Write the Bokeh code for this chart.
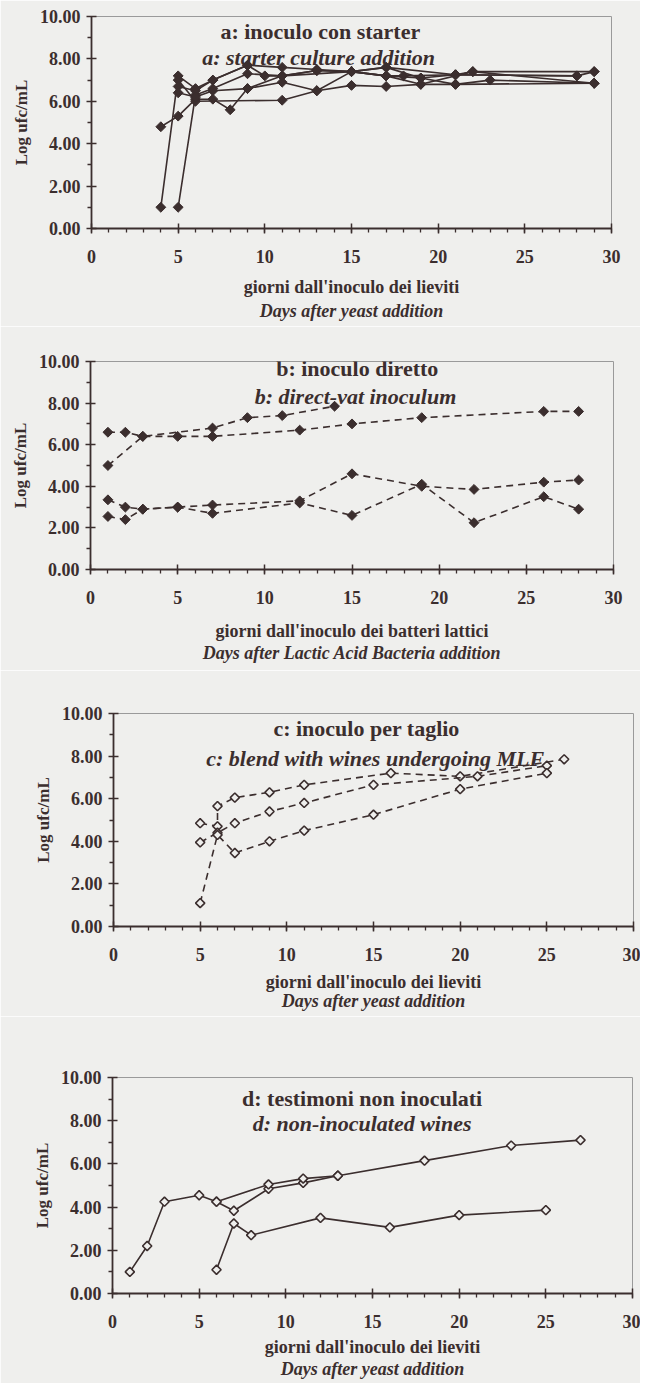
import math
from bokeh.plotting import figure
from bokeh.layouts import column
from bokeh.models import FixedTicker, PrintfTickFormatter, Label, Range1d, Title
from bokeh.embed import file_html
from bokeh.resources import INLINE

# ---------------- data ----------------
x_ticks = [0, 5, 10, 15, 20, 25, 30]
x_minor = list(range(0, 31))
y_ticks = [0, 2, 4, 6, 8, 10]
y_minor = [1, 3, 5, 7, 9]
y_title = "Log ufc/mL"

# panel a: inoculo con starter (filled diamonds, solid lines)
a1_x = [4, 5, 6, 7, 9, 11, 13, 15, 17, 19, 21, 22, 29]
a1_y = [1.0, 7.2, 6.6, 7.0, 7.7, 7.6, 7.5, 7.4, 7.6, 7.1, 7.25, 7.4, 7.4]
a2_x = [5, 6, 7, 9, 11, 13, 15, 17, 18, 21, 28, 29]
a2_y = [1.0, 6.3, 6.6, 7.3, 7.2, 7.45, 7.4, 7.2, 7.2, 7.25, 7.2, 7.4]
a3_x = [4, 5, 6, 7, 8, 9, 11, 13, 15, 17, 19, 21, 23, 29]
a3_y = [4.8, 5.3, 6.1, 6.1, 5.6, 6.6, 6.9, 6.5, 6.75, 6.7, 6.8, 6.8, 7.0, 6.85]
a4_x = [5, 6, 11, 13, 15, 17, 19, 21, 29]
a4_y = [7.0, 6.0, 6.05, 6.5, 7.4, 7.2, 7.1, 6.8, 6.85]
a5_x = [5, 6, 7, 9, 10, 11, 13, 15, 17, 21, 28]
a5_y = [6.7, 6.5, 7.0, 7.7, 7.2, 7.2, 7.45, 7.4, 7.6, 7.25, 7.2]
a6_x = [5, 6, 7, 9, 11, 15, 17, 19, 22, 29]
a6_y = [6.4, 6.2, 6.5, 6.6, 7.2, 7.4, 7.2, 6.8, 7.4, 6.85]

# panel b: inoculo diretto (filled diamonds, dashed lines)
b1_x = [1, 2, 3, 5, 7, 12, 15, 19, 26, 28]
b1_y = [6.6, 6.6, 6.4, 6.4, 6.4, 6.7, 7.0, 7.3, 7.6, 7.6]
b2_x = [1, 3, 7, 9, 11, 14]
b2_y = [5.0, 6.4, 6.8, 7.3, 7.4, 7.85]
b3_x = [1, 2, 3, 5, 7, 12, 15, 19, 22, 26, 28]
b3_y = [3.35, 3.0, 2.9, 3.0, 3.1, 3.3, 4.6, 4.0, 3.85, 4.2, 4.3]
b4_x = [1, 2, 3, 5, 7, 12, 15, 19, 22, 26, 28]
b4_y = [2.55, 2.4, 2.9, 3.0, 2.7, 3.2, 2.6, 4.1, 2.25, 3.5, 2.9]

# panel c: inoculo per taglio (open diamonds, dashed lines)
c1_x = [5, 6, 6, 7, 9, 11, 16, 20, 26]
c1_y = [4.85, 4.7, 5.65, 6.05, 6.3, 6.65, 7.2, 7.05, 7.85]
c2_x = [5, 6, 7, 9, 11, 15, 21, 25]
c2_y = [3.95, 4.4, 4.85, 5.4, 5.8, 6.65, 7.05, 7.55]
c3_x = [5, 6, 7, 9, 11, 15, 20, 25]
c3_y = [1.1, 4.3, 3.45, 4.0, 4.5, 5.25, 6.45, 7.2]

# panel d: testimoni non inoculati (open diamonds, solid lines)
d1_x = [1, 2, 3, 5, 6, 7, 9, 11, 13]
d1_y = [1.0, 2.2, 4.25, 4.55, 4.25, 3.83, 4.85, 5.12, 5.45]
d2_x = [6, 9, 11, 13, 18, 23, 27]
d2_y = [4.25, 5.05, 5.32, 5.45, 6.15, 6.85, 7.1]
d3_x = [6, 7, 8, 12, 16, 20, 25]
d3_y = [1.1, 3.24, 2.7, 3.5, 3.06, 3.63, 3.86]

# ---------------- style ----------------
INK = "#3b2e2e"
BG = "#efefed"
FRAME = "#9a9a9a"
FONT = "Liberation Serif"


def panel(height, mbl, mbr, mbt, mbb):
    p = figure(width=640, height=height, x_range=Range1d(0, 30), y_range=Range1d(0, 10),
               output_backend="svg", toolbar_location=None,
               min_border_left=mbl, min_border_right=mbr,
               min_border_top=mbt, min_border_bottom=mbb)
    p.xgrid.visible = False
    p.ygrid.visible = False
    p.background_fill_color = BG
    p.border_fill_color = BG
    p.outline_line_color = FRAME
    p.outline_line_width = 1
    xa = p.xaxis[0]
    ya = p.yaxis[0]
    xa.ticker = FixedTicker(ticks=x_ticks, minor_ticks=x_minor)
    ya.ticker = FixedTicker(ticks=y_ticks, minor_ticks=y_minor)
    ya.formatter = PrintfTickFormatter(format="%.2f")
    for ax in (xa, ya):
        ax.axis_line_color = INK
        ax.axis_line_width = 1.8
        ax.major_tick_line_color = INK
        ax.major_tick_line_width = 1.5
        ax.minor_tick_line_color = INK
        ax.minor_tick_line_width = 1.3
        ax.major_tick_in = 5
        ax.major_tick_out = 5
        ax.minor_tick_in = 0
        ax.minor_tick_out = 4
        ax.major_label_text_font = FONT
        ax.major_label_text_font_style = "bold"
        ax.major_label_text_color = INK
        ax.major_label_text_font_size = "18px"
        ax.axis_label_text_font = FONT
        ax.axis_label_text_font_style = "bold"
        ax.axis_label_text_color = INK
    xa.major_label_standoff = 16
    ya.major_label_standoff = 6
    ya.axis_label = y_title
    ya.axis_label_text_font_size = "17px"
    ya.axis_label_standoff = 6
    return p


def text(p, x, y, s, style, size):
    p.add_layout(Label(x=x, y=y, text=s, text_align="center", text_baseline="middle",
                       text_font=FONT, text_font_style=style, text_font_size=size,
                       text_color=INK))


def xlabels(p, line1, line2, gap1, gap2):
    xa = p.xaxis[0]
    xa.axis_label = line1
    xa.axis_label_text_font_size = "18px"
    xa.axis_label_standoff = gap1
    p.add_layout(Title(text=line2, align="center", text_font=FONT,
                       text_font_style="bold italic", text_font_size="18px",
                       text_color=INK, standoff=gap2), "below")


def series(p, xs, ys, dash, filled):
    p.line(xs, ys, line_color=INK, line_width=1.6, line_dash=dash)
    if filled:
        p.scatter(xs, ys, marker="square", angle=math.pi / 4, size=7,
                  fill_color=INK, line_color=INK, line_width=1)
    else:
        p.scatter(xs, ys, marker="square", angle=math.pi / 4, size=6.5,
                  fill_color=BG, line_color=INK, line_width=1.6)


# panel a
pa = panel(326, 91, 29, 16, 98)
for xs, ys in [(a1_x, a1_y), (a2_x, a2_y), (a3_x, a3_y), (a4_x, a4_y), (a5_x, a5_y), (a6_x, a6_y)]:
    series(pa, xs, ys, "solid", True)
text(pa, 13.2, 9.3, "a: inoculo con starter", "bold", "22px")
text(pa, 13.1, 8.05, "a: starter culture addition", "bold italic", "22px")
xlabels(pa, "giorni dall'inoculo dei lieviti", "Days after yeast addition", 11, -2)

# panel b
pb = panel(344, 90, 27, 35, 101)
for xs, ys in [(b1_x, b1_y), (b2_x, b2_y), (b3_x, b3_y), (b4_x, b4_y)]:
    series(pb, xs, ys, "7 5", True)
text(pb, 15.3, 9.66, "b: inoculo diretto", "bold", "22px")
text(pb, 15.2, 8.3, "b: direct-vat inoculum", "bold italic", "22px")
xlabels(pb, "giorni dall'inoculo dei batteri lattici", "Days after Lactic Acid Bacteria addition", 14, -6)

# panel c
pc = panel(346, 113, 7, 43, 90)
for xs, ys in [(c1_x, c1_y), (c2_x, c2_y), (c3_x, c3_y)]:
    series(pc, xs, ys, "7 5", False)
text(pc, 14.6, 9.3, "c: inoculo per taglio", "bold", "22px")
text(pc, 15.1, 7.9, "c: blend with wines undergoing MLF", "bold italic", "22px")
xlabels(pc, "giorni dall'inoculo dei lieviti", "Days after yeast addition", 8, -12)

# panel d
pd_ = panel(367, 112, 8, 61, 90)
for xs, ys in [(d1_x, d1_y), (d2_x, d2_y), (d3_x, d3_y)]:
    series(pd_, xs, ys, "solid", False)
text(pd_, 14.4, 9.05, "d: testimoni non inoculati", "bold", "22px")
text(pd_, 14.4, 7.85, "d: non-inoculated wines", "bold italic", "22px")
xlabels(pd_, "giorni dall'inoculo dei lieviti", "Days after yeast addition", 6, -6)

# each panel wrapped on its own so the frames are not forced into alignment
layout = column(column(pa), column(pb), column(pc), column(pd_))
open("out.html", "w").write(file_html(layout, INLINE))
